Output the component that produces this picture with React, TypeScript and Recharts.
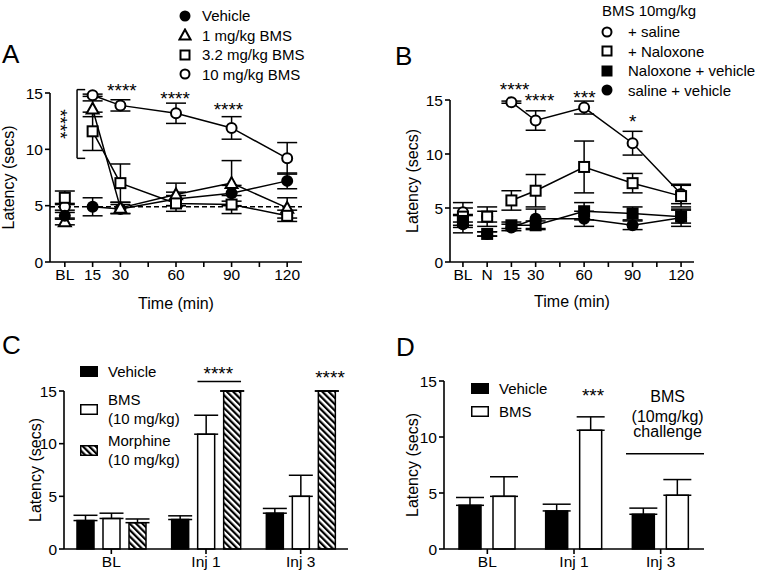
import React from 'react'
import {
  ComposedChart,
  Line,
  Scatter,
  Bar,
  XAxis,
  YAxis,
  ErrorBar,
  ReferenceLine,
  ReferenceDot,
  Legend
} from 'recharts'

const FONT = '"Liberation Sans", Arial, Helvetica, sans-serif'

// ---- Panel A: BMS dose response over time (0 = BL)
const timeA = [0, 15, 30, 60, 90, 120]
const vehicleA = [4.1, 4.9, 4.7, 5.6, 6.1, 7.2]
const vehicleAErr = [0.3, 0.8, 0.4, 0.6, 0.7, 0.7]
const bms1A = [3.6, 13.6, 4.8, 6.0, 7.0, 4.8]
const bms1AErr = [0.3, 0.7, 0.5, 1.0, 2.0, 0.9]
const bms32A = [5.7, 11.6, 7.0, 5.2, 5.1, 4.1]
const bms32AErr = [0.6, 1.7, 1.7, 0.7, 0.8, 0.5]
const bms10A = [4.9, 14.8, 13.9, 13.2, 11.9, 9.2]
const bms10AErr = [0.3, 0.1, 0.5, 0.9, 1.0, 1.4]
const namesA = ['Vehicle', '1 mg/kg BMS', '3.2 mg/kg BMS', '10 mg/kg BMS']
const ticksA = [0, 15, 30, 45, 60, 75, 90, 105, 120]
const tickLabelsA = ['BL', '15', '30', '', '60', '', '90', '', '120']
const starXA = [30.8, 59.5, 88.3]
const starYA = [15.25, 14.55, 13.55]

// ---- Panel B: naloxone reversal (-15 = BL, 0 = N)
const timeB = [-15, 0, 15, 30, 60, 90, 120]
const salineB = [4.6, 4.2, 14.8, 13.1, 14.3, 11.0, 6.3]
const salineBErr = [0.9, 0.5, 0.1, 0.9, 0.6, 1.1, 0.9]
const naloxoneB = [4.2, 4.2, 5.7, 6.6, 8.8, 7.3, 6.1]
const naloxoneBErr = [0.8, 0.9, 0.9, 1.5, 2.4, 0.9, 1.0]
const naloxVehB = [3.8, 2.6, 3.4, 3.4, 4.7, 4.5, 4.2]
const naloxVehBErr = [0.6, 0.2, 0.3, 0.4, 0.8, 0.6, 0.6]
const salVehB = [3.5, 2.6, 3.2, 4.0, 4.0, 3.4, 4.1]
const salVehBErr = [0.8, 0.2, 0.3, 0.9, 0.7, 0.4, 0.8]
const namesB = ['+ saline', '+ Naloxone', 'Naloxone + vehicle', 'saline + vehicle']
const ticksB = [-15, 0, 15, 30, 45, 60, 75, 90, 105, 120]
const tickLabelsB = ['BL', 'N', '15', '30', '', '60', '', '90', '', '120']
const starTextB = ['****', '****', '***', '*']
const starXB = [17, 32.4, 60.2, 90]
const starYB = [15.95, 14.95, 15.3, 13.05]

// ---- Panel C: repeated injections
const catsC = ['BL', 'Inj 1', 'Inj 3']
const vehicleC = [2.7, 2.8, 3.4]
const vehicleCErr = [0.5, 0.35, 0.45]
const bmsC = [2.9, 10.9, 5.0]
const bmsCErr = [0.5, 1.8, 2.0]
const morphineC = [2.5, 15, 15]
const morphineCErr = [0.35, 0, 0]

// ---- Panel D: BMS challenge
const catsD = ['BL', 'Inj 1', 'Inj 3']
const vehicleD = [3.9, 3.4, 3.1]
const vehicleDErr = [0.7, 0.6, 0.55]
const bmsD = [4.7, 10.6, 4.8]
const bmsDErr = [1.75, 1.2, 1.4]
const challengeText = ['BMS', '(10mg/kg)', 'challenge']
const challengeY = [13.66, 11.88, 10.48]

type Kind = 'filledCircle' | 'openCircle' | 'openSquare' | 'filledSquare' | 'openTriangle'

const pts = (xs: number[], ys: number[], es: number[]) =>
  xs.map((x, i) => ({ x, y: ys[i], e: es[i] }))

const seriesA = [
  { kind: 'filledCircle' as Kind, data: pts(timeA, vehicleA, vehicleAErr) },
  { kind: 'openTriangle' as Kind, data: pts(timeA, bms1A, bms1AErr) },
  { kind: 'openSquare' as Kind, data: pts(timeA, bms32A, bms32AErr) },
  { kind: 'openCircle' as Kind, data: pts(timeA, bms10A, bms10AErr) }
]
// baseline points are stacked in a different order than the lines
const baselineOrderA = [3, 1, 0, 2]
const seriesB = [
  { kind: 'openCircle' as Kind, data: pts(timeB, salineB, salineBErr) },
  { kind: 'openSquare' as Kind, data: pts(timeB, naloxoneB, naloxoneBErr) },
  { kind: 'filledSquare' as Kind, data: pts(timeB, naloxVehB, naloxVehBErr) },
  { kind: 'filledCircle' as Kind, data: pts(timeB, salVehB, salVehBErr) }
]
const legendKindsB: Kind[] = ['openCircle', 'openSquare', 'filledSquare', 'filledCircle']
const legendKindsA: Kind[] = ['filledCircle', 'openTriangle', 'openSquare', 'openCircle']

const rowsC = catsC.map((c, i) => ({
  cat: c,
  veh: vehicleC[i],
  vehErr: [0, vehicleCErr[i]],
  bms: bmsC[i],
  bmsErr: [0, bmsCErr[i]],
  mor: morphineC[i],
  morErr: [0, morphineCErr[i]]
}))
const rowsD = catsD.map((c, i) => ({
  cat: c,
  veh: vehicleD[i],
  vehErr: [0, vehicleDErr[i]],
  bms: bmsD[i],
  bmsErr: [0, bmsDErr[i]]
}))

function Mark({ cx, cy, kind, size = 12 }: { cx?: number; cy?: number; kind: Kind; size?: number }) {
  if (cx == null || cy == null || isNaN(cx) || isNaN(cy)) return <g />
  const r = size / 2
  switch (kind) {
    case 'filledCircle':
      return <circle cx={cx} cy={cy} r={r} fill="#000" />
    case 'openCircle':
      return <circle cx={cx} cy={cy} r={r - 1} fill="#fff" stroke="#000" strokeWidth={2} />
    case 'filledSquare':
      return <rect x={cx - r} y={cy - r} width={size} height={size} fill="#000" />
    case 'openSquare':
      return (
        <rect x={cx - r + 1} y={cy - r + 1} width={size - 2} height={size - 2} fill="#fff" stroke="#000" strokeWidth={2} />
      )
    default:
      return (
        <polygon
          points={`${cx},${cy - r} ${cx + r},${cy + r * 0.8} ${cx - r},${cy + r * 0.8}`}
          fill="#fff"
          stroke="#000"
          strokeWidth={2}
        />
      )
  }
}

const axisLine = { stroke: '#000', strokeWidth: 1.6 }
const tickStyle = { fill: '#000', fontSize: 15.5, fontFamily: FONT }
const yLabel = (offset: number) => ({
  value: 'Latency (secs)',
  angle: -90,
  position: 'insideLeft' as const,
  offset,
  style: { textAnchor: 'middle', fontSize: 16, fontFamily: FONT, fill: '#000' }
})
const xLabel = (offset: number) => ({
  value: 'Time (min)',
  position: 'insideBottom' as const,
  offset,
  style: { fontSize: 16, fontFamily: FONT, fill: '#000' }
})
const starLabel = (t: string, angle = 0) => ({
  value: t,
  position: 'center' as const,
  angle,
  fontSize: 19,
  fontFamily: FONT,
  fill: '#000'
})

function MarkerLegend({ names, kinds, title }: { names: string[]; kinds: Kind[]; title?: string }) {
  return (
    <div style={{ fontFamily: FONT, fontSize: 15, color: '#000' }}>
      {title && <div style={{ height: 21, lineHeight: '20px', marginLeft: 2 }}>{title}</div>}
      {names.map((n, i) => (
        <div key={n} style={{ display: 'flex', alignItems: 'center', height: 19.5 }}>
          <svg width={14} height={14} style={{ marginRight: title ? 14 : 10 }}>
            <Mark cx={7} cy={7} kind={kinds[i]} size={11} />
          </svg>
          <span>{n}</span>
        </div>
      ))}
    </div>
  )
}

function SwatchLegend({ items, fills, gaps }: { items: string[][]; fills: string[]; gaps: number[] }) {
  return (
    <div style={{ fontFamily: FONT, fontSize: 15, color: '#000', lineHeight: '19px' }}>
      {items.map((lines, i) => (
        <div key={i} style={{ display: 'flex', alignItems: 'center', marginTop: gaps[i] }}>
          <svg width={18} height={11} style={{ marginRight: 10 }}>
            <rect x={0.75} y={0.75} width={16.5} height={9.5} fill={fills[i]} stroke="#000" strokeWidth={1.5} />
          </svg>
          <div>
            {lines.map((l) => (
              <div key={l}>{l}</div>
            ))}
          </div>
        </div>
      ))}
    </div>
  )
}

function Letter({ ch, left, top }: { ch: string; left: number; top: number }) {
  return (
    <div style={{ position: 'absolute', left, top, fontFamily: FONT, fontSize: 26, lineHeight: '26px' }}>{ch}</div>
  )
}

function PanelA() {
  return (
    <ComposedChart width={381} height={320} margin={{ top: 93, right: 79, bottom: 10, left: 5 }}>
      <XAxis
        type="number"
        dataKey="x"
        domain={[-8, 128]}
        allowDataOverflow
        ticks={ticksA}
        interval={0}
        tickFormatter={(v: number) => tickLabelsA[ticksA.indexOf(v)] ?? ''}
        axisLine={axisLine}
        tickLine={axisLine}
        tickSize={5}
        tick={tickStyle}
        height={48}
        label={xLabel(1)}
      />
      <YAxis
        type="number"
        domain={[0, 15]}
        ticks={[0, 5, 10, 15]}
        interval={0}
        axisLine={axisLine}
        tickLine={axisLine}
        tickSize={5}
        tick={tickStyle}
        width={45}
        label={yLabel(3.5)}
      />
      <Legend
        layout="vertical"
        align="center"
        verticalAlign="middle"
        wrapperStyle={{ left: 178, top: 6, width: 200 }}
        content={() => <MarkerLegend names={namesA} kinds={legendKindsA} />}
      />
      <ReferenceLine y={4.9} stroke="#000" strokeWidth={1.5} strokeDasharray="5 3" />
      {seriesA.map((s, k) => (
        <Line
          key={'l' + k}
          data={s.data.filter((d) => d.x >= 15)}
          dataKey="y"
          stroke="#000"
          strokeWidth={1.5}
          isAnimationActive={false}
          activeDot={false}
          legendType="none"
          dot={(p: any) => <Mark key={'d' + k + '-' + p.index} cx={p.cx} cy={p.cy} kind={s.kind} />}
        >
          <ErrorBar dataKey="e" direction="y" width={10} stroke="#000" strokeWidth={1.5} />
        </Line>
      ))}
      {baselineOrderA.map((k) => (
        <Scatter
          key={'s' + k}
          data={seriesA[k].data.filter((d) => d.x < 15)}
          dataKey="y"
          isAnimationActive={false}
          legendType="none"
          shape={(p: any) => <Mark cx={p.cx} cy={p.cy} kind={seriesA[k].kind} />}
        >
          <ErrorBar dataKey="e" direction="y" width={10} stroke="#000" strokeWidth={1.5} />
        </Scatter>
      ))}
      {starXA.map((x, i) => (
        <ReferenceDot key={'st' + i} x={x} y={starYA[i]} r={0} ifOverflow="visible" label={starLabel('****')} />
      ))}
      <ReferenceDot x={-2} y={12.25} r={0} ifOverflow="visible" label={starLabel('****', 90)} />
      <ReferenceLine segment={[{ x: 6.6, y: 9.2 }, { x: 6.6, y: 15.3 }]} ifOverflow="visible" stroke="#000" strokeWidth={1.5} />
      <ReferenceLine segment={[{ x: 6.6, y: 15.3 }, { x: 11, y: 15.3 }]} ifOverflow="visible" stroke="#000" strokeWidth={1.5} />
      <ReferenceLine segment={[{ x: 6.6, y: 9.2 }, { x: 11, y: 9.2 }]} ifOverflow="visible" stroke="#000" strokeWidth={1.5} />
    </ComposedChart>
  )
}

function PanelB() {
  return (
    <ComposedChart width={381} height={320} margin={{ top: 100, right: 68, bottom: 10, left: 24 }}>
      <XAxis
        type="number"
        dataKey="x"
        domain={[-23, 128]}
        allowDataOverflow
        ticks={ticksB}
        interval={0}
        tickFormatter={(v: number) => tickLabelsB[ticksB.indexOf(v)] ?? ''}
        axisLine={axisLine}
        tickLine={axisLine}
        tickSize={5}
        tick={tickStyle}
        height={48}
        label={xLabel(3)}
      />
      <YAxis
        type="number"
        domain={[0, 15]}
        ticks={[0, 5, 10, 15]}
        interval={0}
        axisLine={axisLine}
        tickLine={axisLine}
        tickSize={5}
        tick={tickStyle}
        width={45}
        label={yLabel(7)}
      />
      <Legend
        layout="vertical"
        align="center"
        verticalAlign="middle"
        wrapperStyle={{ left: 219, top: 1, width: 162 }}
        content={() => <MarkerLegend names={namesB} kinds={legendKindsB} title="BMS 10mg/kg" />}
      />
      {seriesB.map((s, k) => (
        <Line
          key={'l' + k}
          data={s.data.filter((d) => d.x >= 15)}
          dataKey="y"
          stroke="#000"
          strokeWidth={1.5}
          isAnimationActive={false}
          activeDot={false}
          legendType="none"
          dot={(p: any) => <Mark key={'d' + k + '-' + p.index} cx={p.cx} cy={p.cy} kind={s.kind} />}
        >
          <ErrorBar dataKey="e" direction="y" width={10} stroke="#000" strokeWidth={1.5} />
        </Line>
      ))}
      {seriesB.map((s, k) => (
        <Scatter
          key={'s' + k}
          data={s.data.filter((d) => d.x < 15)}
          dataKey="y"
          isAnimationActive={false}
          legendType="none"
          shape={(p: any) => <Mark cx={p.cx} cy={p.cy} kind={s.kind} />}
        >
          <ErrorBar dataKey="e" direction="y" width={10} stroke="#000" strokeWidth={1.5} />
        </Scatter>
      ))}
      {starXB.map((x, i) => (
        <ReferenceDot key={'st' + i} x={x} y={starYB[i]} r={0} ifOverflow="visible" label={starLabel(starTextB[i])} />
      ))}
    </ComposedChart>
  )
}

function PanelC() {
  return (
    <ComposedChart
      width={381}
      height={276}
      data={rowsC}
      margin={{ top: 91, right: 33, bottom: 2, left: 19 }}
      barSize={17}
      barGap={9}
    >
      <XAxis dataKey="cat" axisLine={axisLine} tickLine={axisLine} tickSize={5} tick={tickStyle} height={25} interval={0} />
      <XAxis xAxisId="pos" dataKey="cat" type="number" domain={[0, 3]} allowDataOverflow hide />
      <YAxis
        type="number"
        domain={[0, 15]}
        ticks={[0, 5, 10, 15]}
        interval={0}
        axisLine={axisLine}
        tickLine={axisLine}
        tickSize={5}
        tick={tickStyle}
        width={45}
        label={yLabel(16)}
      />
      <Legend
        layout="vertical"
        align="center"
        verticalAlign="middle"
        wrapperStyle={{ left: 80, top: 62, width: 160 }}
        content={() => (
          <SwatchLegend
            items={[['Vehicle'], ['BMS', '(10 mg/kg)'], ['Morphine', '(10 mg/kg)']]}
            fills={['#000', '#fff', 'url(#hatch)']}
            gaps={[0, 9, 3]}
          />
        )}
      />
      <Bar dataKey="veh" fill="#000" stroke="#000" strokeWidth={1.5} isAnimationActive={false}>
        <ErrorBar dataKey="vehErr" direction="y" width={12} stroke="#000" strokeWidth={1.5} />
      </Bar>
      <Bar dataKey="bms" fill="#fff" stroke="#000" strokeWidth={1.5} isAnimationActive={false}>
        <ErrorBar dataKey="bmsErr" direction="y" width={12} stroke="#000" strokeWidth={1.5} />
      </Bar>
      <Bar dataKey="mor" fill="url(#hatch)" stroke="#000" strokeWidth={1.5} isAnimationActive={false}>
        <ErrorBar dataKey="morErr" direction="y" width={12} stroke="#000" strokeWidth={1.5} />
      </Bar>
      <ReferenceLine
        xAxisId="pos"
        segment={[{ x: 1.41, y: 15.9 }, { x: 1.87, y: 15.9 }]}
        ifOverflow="visible"
        stroke="#000"
        strokeWidth={1.5}
      />
      <ReferenceDot xAxisId="pos" x={1.63} y={16.65} r={0} ifOverflow="visible" label={starLabel('****')} />
      <ReferenceDot xAxisId="pos" x={2.81} y={16.35} r={0} ifOverflow="visible" label={starLabel('****')} />
    </ComposedChart>
  )
}

function PanelD() {
  return (
    <ComposedChart
      width={381}
      height={276}
      data={rowsD}
      margin={{ top: 81, right: 58, bottom: 2, left: 18 }}
      barSize={22}
      barGap={12}
    >
      <XAxis dataKey="cat" axisLine={axisLine} tickLine={axisLine} tickSize={5} tick={tickStyle} height={25} interval={0} />
      <XAxis xAxisId="pos" dataKey="cat" type="number" domain={[0, 3]} allowDataOverflow hide />
      <YAxis
        type="number"
        domain={[0, 15]}
        ticks={[0, 5, 10, 15]}
        interval={0}
        axisLine={axisLine}
        tickLine={axisLine}
        tickSize={5}
        tick={tickStyle}
        width={45}
        label={yLabel(13)}
      />
      <Legend
        layout="vertical"
        align="center"
        verticalAlign="middle"
        wrapperStyle={{ left: 90, top: 79, width: 120 }}
        content={() => <SwatchLegend items={[['Vehicle'], ['BMS']]} fills={['#000', '#fff']} gaps={[0, 4]} />}
      />
      <Bar dataKey="veh" fill="#000" stroke="#000" strokeWidth={1.5} isAnimationActive={false}>
        <ErrorBar dataKey="vehErr" direction="y" width={14} stroke="#000" strokeWidth={1.5} />
      </Bar>
      <Bar dataKey="bms" fill="#fff" stroke="#000" strokeWidth={1.5} isAnimationActive={false}>
        <ErrorBar dataKey="bmsErr" direction="y" width={14} stroke="#000" strokeWidth={1.5} />
      </Bar>
      <ReferenceDot xAxisId="pos" x={1.72} y={13.7} r={0} ifOverflow="visible" label={starLabel('***')} />
      {challengeText.map((t, i) => (
        <ReferenceDot
          key={t}
          xAxisId="pos"
          x={2.58}
          y={challengeY[i]}
          r={0}
          ifOverflow="visible"
          label={{ value: t, position: 'center', fontSize: 16, fontFamily: FONT, fill: '#000' }}
        />
      ))}
      <ReferenceLine
        xAxisId="pos"
        segment={[{ x: 2.1, y: 8.5 }, { x: 3.0, y: 8.5 }]}
        ifOverflow="visible"
        stroke="#000"
        strokeWidth={1.5}
      />
    </ComposedChart>
  )
}

export default function App() {
  return (
    <div style={{ position: 'absolute', left: 0, top: 0, width: 762, height: 576, background: '#fff', overflow: 'hidden' }}>
      <svg width={0} height={0} style={{ position: 'absolute' }}>
        <defs>
          <pattern id="hatch" patternUnits="userSpaceOnUse" width={4.5} height={4.5} patternTransform="rotate(-45)">
            <rect x={0} y={0} width={4.5} height={4.5} fill="#fff" />
            <rect x={0} y={0} width={2.2} height={4.5} fill="#000" />
          </pattern>
        </defs>
      </svg>
      <div style={{ position: 'absolute', left: 0, top: 0 }}>
        <PanelA />
      </div>
      <div style={{ position: 'absolute', left: 381, top: 0 }}>
        <PanelB />
      </div>
      <div style={{ position: 'absolute', left: 0, top: 300 }}>
        <PanelC />
      </div>
      <div style={{ position: 'absolute', left: 381, top: 300 }}>
        <PanelD />
      </div>
      <Letter ch="A" left={2} top={41} />
      <Letter ch="B" left={395} top={43} />
      <Letter ch="C" left={2} top={332} />
      <Letter ch="D" left={396} top={334} />
    </div>
  )
}
